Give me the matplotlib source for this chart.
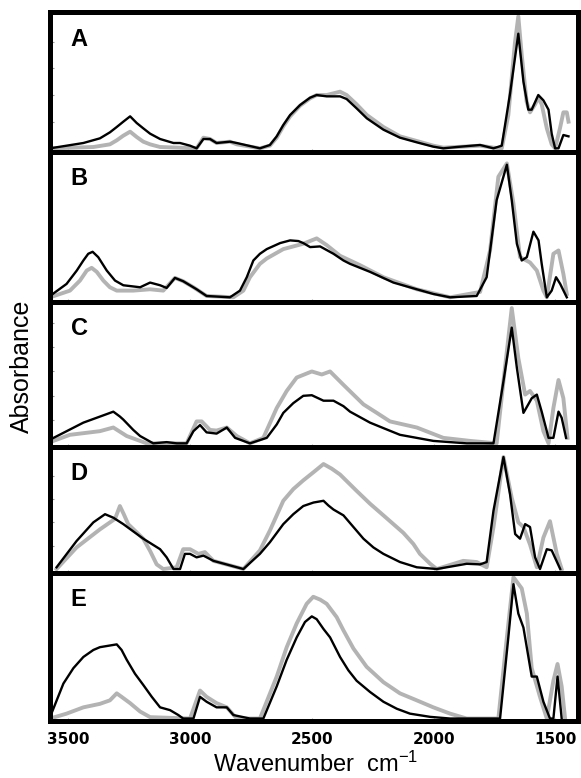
import matplotlib.pyplot as plt

plt.rcParams['font.family'] = ['Liberation Sans', 'DejaVu Sans']
plt.rcParams['mathtext.default'] = 'regular'

# ---- data (wavenumber, absorbance in panel units) ----
a_black_wn = [3575, 3438, 3370, 3329, 3301, 3274, 3246, 3219, 3192, 3164, 3123, 3068, 3041, 3000,
              2973, 2945, 2918, 2891, 2836, 2808, 2713, 2672, 2644, 2617, 2589, 2548, 2507, 2480,
              2439, 2384, 2357, 2316, 2274, 2206, 2138, 2069, 2001, 1960, 1905, 1809, 1754,
              1720, 1686, 1652, 1631, 1611, 1597, 1570, 1549, 1528, 1515, 1501, 1487, 1467, 1446]
a_black = [0, 0.04, 0.075, 0.12, 0.16, 0.2, 0.24, 0.19, 0.15, 0.11, 0.07, 0.04, 0.04, 0.02,
           0.0, 0.07, 0.07, 0.04, 0.05, 0.04, 0.0, 0.025, 0.09, 0.175, 0.25, 0.325, 0.38, 0.40,
           0.39, 0.39, 0.37, 0.30, 0.225, 0.14, 0.08, 0.045, 0.0125, 0.0, 0.01, 0.025, 0.0,
           0.02, 0.41, 0.86, 0.5, 0.29, 0.29, 0.40, 0.36, 0.29, 0.11, 0.0, 0.0, 0.1, 0.09]
a_gray_wn = [3575, 3397, 3329, 3301, 3274, 3246, 3219, 3192, 3164, 3123, 2973, 2945, 2918, 2891,
             2836, 2808, 2713, 2672, 2644, 2617, 2589, 2548, 2507, 2480, 2439, 2384, 2357, 2316,
             2274, 2206, 2138, 2069, 2001, 1960, 1905, 1809, 1754, 1720, 1693, 1666, 1652, 1638,
             1618, 1604, 1583, 1570, 1556, 1535, 1515, 1501, 1481, 1467, 1453, 1446]
a_gray = [0, 0.01, 0.03, 0.06, 0.095, 0.125, 0.085, 0.05, 0.03, 0.01, 0, 0.08, 0.07, 0.04,
          0.05, 0.03, 0, 0.02, 0.08, 0.165, 0.24, 0.32, 0.375, 0.40, 0.40, 0.425, 0.40, 0.33,
          0.25, 0.16, 0.09, 0.055, 0.02, 0.005, 0.01, 0.02, 0.005, 0, 0.25, 0.79, 0.99, 0.7,
          0.35, 0.27, 0.33, 0.38, 0.33, 0.15, 0.03, 0, 0.15, 0.27, 0.27, 0.2]

b_black_wn = [3575, 3507, 3465, 3438, 3418, 3400, 3377, 3342, 3308, 3274, 3205, 3164, 3123, 3096,
              3062, 3028, 2973, 2932, 2836, 2795, 2767, 2740, 2713, 2685, 2630, 2589, 2555, 2535,
              2507, 2466, 2411, 2370, 2343, 2261, 2165, 2069, 2001, 1932, 1823, 1782, 1741, 1699,
              1679, 1658, 1638, 1617, 1590, 1569, 1556, 1535, 1515, 1497, 1480, 1453]
b_black = [0.01, 0.10, 0.2, 0.275, 0.325, 0.34, 0.30, 0.20, 0.125, 0.09, 0.075, 0.11, 0.09, 0.07,
           0.145, 0.12, 0.06, 0.01, 0, 0.05, 0.15, 0.275, 0.325, 0.36, 0.405, 0.425, 0.42, 0.405,
           0.375, 0.38, 0.325, 0.275, 0.25, 0.19, 0.11, 0.06, 0.025, 0, 0.01, 0.15, 0.725, 0.99,
           0.725, 0.40, 0.275, 0.30, 0.49, 0.425, 0.25, 0, 0.05, 0.15, 0.10, 0]
b_gray_wn = [3575, 3493, 3452, 3424, 3404, 3383, 3356, 3329, 3301, 3233, 3164, 3110, 3062, 3028,
             2986, 2932, 2822, 2781, 2754, 2713, 2685, 2617, 2535, 2480, 2439, 2384, 2302, 2206,
             2069, 1932, 1809, 1768, 1734, 1699, 1672, 1645, 1604, 1576, 1549, 1535, 1508, 1487,
             1467, 1453]
b_gray = [0, 0.05, 0.125, 0.20, 0.22, 0.19, 0.125, 0.075, 0.05, 0.05, 0.06, 0.05, 0.145, 0.12,
          0.075, 0.01, 0, 0.05, 0.15, 0.25, 0.29, 0.36, 0.40, 0.44, 0.39, 0.31, 0.24, 0.15,
          0.06, 0, 0.04, 0.35, 0.90, 1.0, 0.70, 0.30, 0.26, 0.20, 0.05, 0, 0.325, 0.35,
          0.175, 0.025]

c_black_wn = [3575, 3438, 3342, 3315, 3288, 3274, 3233, 3205, 3151, 3096, 3055, 3014, 2986, 2959,
              2932, 2891, 2849, 2815, 2754, 2685, 2644, 2617, 2576, 2535, 2500, 2452, 2411, 2370,
              2343, 2261, 2206, 2138, 2001, 1864, 1754, 1713, 1679, 1658, 1631, 1611, 1597, 1576,
              1556, 1528, 1508, 1487, 1474, 1456]
c_black = [0.04, 0.18, 0.25, 0.27, 0.23, 0.205, 0.12, 0.07, 0.01, 0.02, 0.01, 0.01, 0.11, 0.16,
           0.10, 0.09, 0.14, 0.055, 0.01, 0.055, 0.165, 0.26, 0.34, 0.40, 0.405, 0.36, 0.36, 0.315,
           0.27, 0.18, 0.135, 0.08, 0.03, 0.01, 0.01, 0.52, 0.96, 0.63, 0.26, 0.33, 0.38, 0.41,
           0.27, 0.055, 0.055, 0.27, 0.22, 0.055]
c_gray_wn = [3575, 3493, 3370, 3315, 3260, 3178, 3096, 3014, 2973, 2952, 2918, 2891, 2849, 2808,
             2754, 2699, 2644, 2603, 2562, 2500, 2459, 2425, 2370, 2329, 2288, 2233, 2179, 2069,
             1960, 1850, 1741, 1713, 1679, 1652, 1624, 1604, 1576, 1549, 1528, 1508, 1487, 1467,
             1450]
c_gray = [0.02, 0.08, 0.11, 0.14, 0.07, 0.01, 0.01, 0.01, 0.19, 0.19, 0.12, 0.115, 0.14, 0.07,
          0.01, 0.055, 0.30, 0.44, 0.55, 0.60, 0.575, 0.60, 0.49, 0.41, 0.33, 0.26, 0.19, 0.14,
          0.055, 0.03, 0.01, 0.52, 1.12, 0.71, 0.41, 0.44, 0.36, 0.11, 0.01, 0.30, 0.53, 0.38,
          0.055]

d_black_wn = [3548, 3466, 3397, 3349, 3315, 3274, 3192, 3123, 3096, 3068, 3041, 3021, 3000, 2973,
              2945, 2904, 2781, 2713, 2672, 2617, 2576, 2535, 2493, 2452, 2432, 2411, 2370, 2329,
              2288, 2247, 2206, 2138, 2069, 1987, 1864, 1809, 1782, 1754, 1713, 1686, 1665, 1645,
              1624, 1604, 1583, 1563, 1535, 1515, 1480]
d_black = [0.015, 0.24, 0.40, 0.47, 0.44, 0.385, 0.26, 0.17, 0.10, 0, 0, 0.13, 0.13, 0.10,
           0.115, 0.07, 0, 0.13, 0.23, 0.385, 0.47, 0.54, 0.57, 0.585, 0.545, 0.51, 0.46, 0.36,
           0.26, 0.185, 0.13, 0.06, 0.015, 0, 0.045, 0.04, 0.06, 0.50, 0.96, 0.64, 0.30, 0.26,
           0.385, 0.36, 0.10, 0, 0.17, 0.16, 0]
d_gray_wn = [3548, 3466, 3370, 3308, 3288, 3272, 3254, 3192, 3164, 3137, 3110, 3055, 3028, 3000,
             2966, 2939, 2904, 2781, 2713, 2672, 2617, 2576, 2535, 2493, 2452, 2418, 2384, 2316,
             2261, 2206, 2124, 2083, 2056, 2014, 1987, 1878, 1823, 1782, 1754, 1713, 1679, 1652,
             1631, 1604, 1576, 1549, 1522, 1494, 1474]
d_gray = [0, 0.185, 0.34, 0.43, 0.54, 0.47, 0.385, 0.26, 0.155, 0.04, 0, 0.015, 0.17, 0.17,
          0.13, 0.145, 0.07, 0, 0.16, 0.33, 0.585, 0.685, 0.76, 0.83, 0.90, 0.86, 0.81, 0.67,
          0.56, 0.46, 0.31, 0.215, 0.13, 0.045, 0, 0.07, 0.06, 0.015, 0.36, 0.96, 0.61, 0.40,
          0.36, 0.21, 0.015, 0.27, 0.41, 0.13, 0]

e_black_wn = [3575, 3520, 3479, 3438, 3397, 3370, 3301, 3281, 3260, 3226, 3192, 3157, 3123, 3082,
              3048, 3028, 2986, 2959, 2932, 2891, 2849, 2822, 2754, 2699, 2644, 2603, 2562, 2528,
              2500, 2480, 2452, 2425, 2384, 2350, 2316, 2261, 2206, 2151, 2097, 2014, 1932, 1727,
              1693, 1672, 1652, 1631, 1597, 1576, 1549, 1522, 1508, 1491, 1474]
e_black = [0.01, 0.25, 0.36, 0.44, 0.49, 0.51, 0.53, 0.49, 0.42, 0.32, 0.24, 0.155, 0.08, 0.06,
           0.025, 0, 0, 0.155, 0.12, 0.08, 0.08, 0.025, 0, 0, 0.23, 0.42, 0.58, 0.69,
           0.73, 0.71, 0.64, 0.58, 0.44, 0.345, 0.27, 0.19, 0.12, 0.07, 0.035, 0.012, 0, 0,
           0.58, 0.96, 0.75, 0.65, 0.30, 0.30, 0.12, 0, 0, 0.30, 0]
e_gray_wn = [3575, 3507, 3438, 3370, 3329, 3301, 3281, 3246, 3205, 3164, 3000, 2959, 2932, 2891,
             2849, 2808, 2713, 2644, 2603, 2562, 2521, 2494, 2466, 2439, 2398, 2370, 2329, 2275,
             2206, 2138, 2069, 2001, 1932, 1864, 1734, 1699, 1672, 1638, 1617, 1597, 1563, 1535,
             1508, 1491, 1474, 1460]
e_gray = [0, 0.035, 0.08, 0.105, 0.13, 0.18, 0.155, 0.11, 0.05, 0.01, 0, 0.20, 0.155, 0.11,
          0.08, 0, 0, 0.30, 0.51, 0.68, 0.82, 0.87, 0.85, 0.82, 0.725, 0.63, 0.50, 0.37,
          0.26, 0.18, 0.13, 0.08, 0.035, 0, 0, 0.58, 1.01, 0.93, 0.75, 0.36, 0.155, 0,
          0.27, 0.39, 0.23, 0]

panel_names = ['A', 'B', 'C', 'D', 'E']
panels = [
    (a_black_wn, a_black, a_gray_wn, a_gray),
    (b_black_wn, b_black, b_gray_wn, b_gray),
    (c_black_wn, c_black, c_gray_wn, c_gray),
    (d_black_wn, d_black, d_gray_wn, d_gray),
    (e_black_wn, e_black, e_gray_wn, e_gray),
]
y_limits = [(-0.0275, 1.019), (-0.035, 1.085), (-0.02, 1.17), (-0.034, 1.046), (-0.014, 1.04)]
y_ticks = [[0.2, 0.4, 0.6, 0.8], [], [0.2, 0.4, 0.6, 0.8, 1.0], [0.2, 0.4, 0.6, 0.8], []]
x_ticks = [3500, 3000, 2500, 2000, 1500]

# ---- layout (pixels) ----
W, H = 581, 778
edges = [12.5, 152, 302, 447, 573, 720.5]
left, right = 50, 577.5

fig = plt.figure(figsize=(W / 100, H / 100), dpi=100)

for i, (bx, by, gx, gy) in enumerate(panels):
    top, bot = edges[i], edges[i + 1]
    ax = fig.add_axes([left / W, 1 - bot / H, (right - left) / W, (bot - top) / H])
    ax.plot(gx, gy, color='#b3b3b3', lw=2.8, solid_joinstyle='round')
    ax.plot(bx, by, color='black', lw=1.7, solid_joinstyle='round')
    ax.set_xlim(3575, 1409)
    ax.set_ylim(*y_limits[i])
    for sp in ax.spines.values():
        sp.set_linewidth(3.6)
    ax.set_yticks(y_ticks[i])
    ax.tick_params(axis='y', direction='in', length=3, width=0.8, color='#999999',
                   labelleft=False)
    ax.set_xticks(x_ticks)
    ax.tick_params(axis='x', direction='in', length=2, width=0.8, color='#aaaaaa',
                   labelbottom=(i == 4), pad=8)
    if i == 4:
        ax.set_xticklabels([str(t) for t in x_ticks], fontfamily='DejaVu Sans',
                           fontweight='bold', fontsize=11)
    ax.annotate(panel_names[i], xy=(0, 1), xycoords='axes fraction',
                xytext=(15, -11), textcoords='offset points',
                ha='left', va='top', fontsize=17, fontweight='bold')

fig.text(22 / W, 1 - 366 / H, 'Absorbance', rotation=90, ha='center', va='center',
         fontsize=18)
fig.text(316 / W, 1 - 764 / H, 'Wavenumber  cm$^{-1}$', ha='center', va='center',
         fontsize=17)

plt.savefig('out.png', dpi=100)
